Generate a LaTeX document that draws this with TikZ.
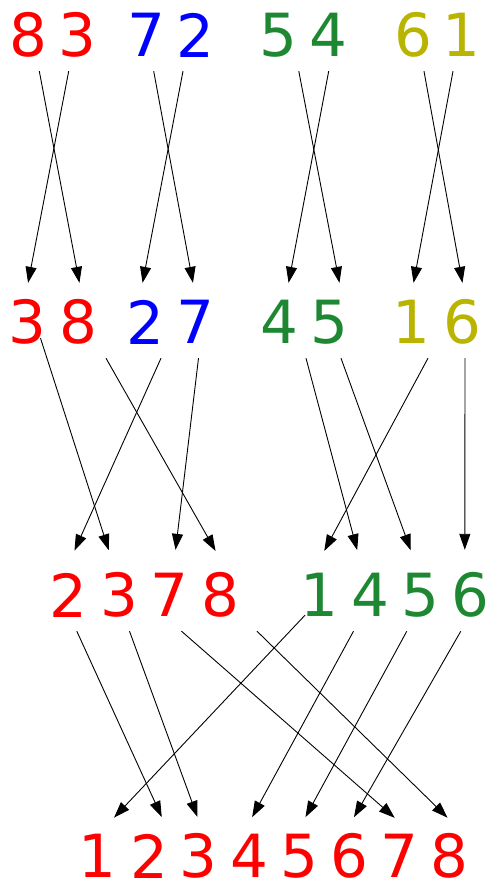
\documentclass[tikz,border=0pt]{standalone}
\usepackage{fontspec}
\setmainfont{DejaVu Sans}
\usepackage{xcolor}
\usepackage{tikz}
\usetikzlibrary{arrows.meta}

\definecolor{sortgreen}{RGB}{30,135,50}
\definecolor{sortolive}{RGB}{185,180,0}

\begin{document}
\begin{tikzpicture}[
    x=1pt, y=-1pt,
    digit/.style={font=\fontsize{59.5}{60}\selectfont, inner sep=0pt, minimum height=72pt},
    arrow/.style={-{Triangle[length=16pt, width=11pt]}, line width=0.9pt, shorten >=3pt}
]
    \useasboundingbox (0,0) rectangle (487,878);

    % unsorted pairs
    \node[digit, red]        (a8) at (28.3,35)  {8};
    \node[digit, red]        (a3) at (77.7,35)  {3};
    \node[digit, blue]       (a7) at (146.7,35) {7};
    \node[digit, blue]       (a2) at (195,35)   {2};
    \node[digit, sortgreen]  (a5) at (278.8,35) {5};
    \node[digit, sortgreen]  (a4) at (328.7,35) {4};
    \node[digit, sortolive]  (a6) at (413,35)   {6};
    \node[digit, sortolive]  (a1) at (461,35)   {1};

    % sorted pairs
    \node[digit, red]        (b3) at (27.5,322)  {3};
    \node[digit, red]        (b8) at (78,322)    {8};
    \node[digit, blue]       (b2) at (145,322)   {2};
    \node[digit, blue]       (b7) at (195.5,322) {7};
    \node[digit, sortgreen]  (b4) at (279,322)   {4};
    \node[digit, sortgreen]  (b5) at (329,322)   {5};
    \node[digit, sortolive]  (b1) at (411,322)   {1};
    \node[digit, sortolive]  (b6) at (462,322)   {6};

    % sorted halves
    \node[digit, red]        (c2) at (68.8,595)  {2};
    \node[digit, red]        (c3) at (119.5,595) {3};
    \node[digit, red]        (c7) at (169.5,595) {7};
    \node[digit, red]        (c8) at (220,595)   {8};
    \node[digit, sortgreen]  (c1) at (319,595)   {1};
    \node[digit, sortgreen]  (c4) at (370.5,595) {4};
    \node[digit, sortgreen]  (c5) at (420.8,595) {5};
    \node[digit, sortgreen]  (c6) at (470.8,595) {6};

    % result
    \node[digit, red]        (d1) at (97,856)    {1};
    \node[digit, red]        (d2) at (149,856)   {2};
    \node[digit, red]        (d3) at (198.5,856) {3};
    \node[digit, red]        (d4) at (249.7,856) {4};
    \node[digit, red]        (d5) at (299,856)   {5};
    \node[digit, red]        (d6) at (349.5,856) {6};
    \node[digit, red]        (d7) at (399,856)   {7};
    \node[digit, red]        (d8) at (449.7,856) {8};

    % first merge
    \draw[arrow] ([xshift=11pt]a8.south) -- ([xshift=2pt]b8.north);
    \draw[arrow] ([xshift=-9pt]a3.south) -- (b3.north);
    \draw[arrow] ([xshift=7pt]a7.south) -- ([xshift=-2pt]b7.north);
    \draw[arrow] ([xshift=-12pt]a2.south) -- ([xshift=-3pt]b2.north);
    \draw[arrow] ([xshift=20pt]a5.south) -- ([xshift=11pt]b5.north);
    \draw[arrow] (a4.south) -- ([xshift=9pt]b4.north);
    \draw[arrow] ([xshift=11pt]a6.south) -- ([xshift=1pt]b6.north);
    \draw[arrow] ([xshift=-8pt]a1.south) -- ([xshift=2pt]b1.north);

    % second merge
    \draw[arrow, shorten >=9pt] ([xshift=13pt, yshift=20pt]b3.south) -- ([xshift=-8pt]c3.north);
    \draw[arrow, shorten >=9pt] ([xshift=28pt]b8.south) -- (c8.north);
    \draw[arrow, shorten >=9pt] ([xshift=16pt]b2.south) -- ([xshift=2pt]c2.north);
    \draw[arrow, shorten >=9pt] ([xshift=3pt]b7.south) -- ([xshift=5pt]c7.north);
    \draw[arrow, shorten >=9pt] ([xshift=27pt]b4.south) -- ([xshift=-11pt]c4.north);
    \draw[arrow, shorten >=9pt] ([xshift=12pt]b5.south) -- ([xshift=-7pt]c5.north);
    \draw[arrow, shorten >=9pt] ([xshift=17pt]b1.south) -- ([xshift=1pt]c1.north);
    \draw[arrow, shorten >=9pt] ([xshift=3pt]b6.south) -- ([xshift=-6pt]c6.north);

    % last merge
    \draw[arrow] ([xshift=8pt]c2.south) -- ([xshift=14pt]d2.north);
    \draw[arrow] ([xshift=10pt]c3.south) -- (d3.north);
    \draw[arrow] ([xshift=12pt]c7.south) -- ([xshift=-2pt]d7.north);
    \draw[arrow] ([xshift=37pt]c8.south) -- (d8.north);
    \draw[arrow] ([xshift=-14pt, yshift=16pt]c1.south) -- ([xshift=15pt]d1.north);
    \draw[arrow] ([xshift=-17pt]c4.south) -- ([xshift=1pt]d4.north);
    \draw[arrow] ([xshift=-14pt]c5.south) -- ([xshift=5pt]d5.north);
    \draw[arrow] ([xshift=-10pt]c6.south) -- ([xshift=3pt]d6.north);
\end{tikzpicture}
\end{document}
